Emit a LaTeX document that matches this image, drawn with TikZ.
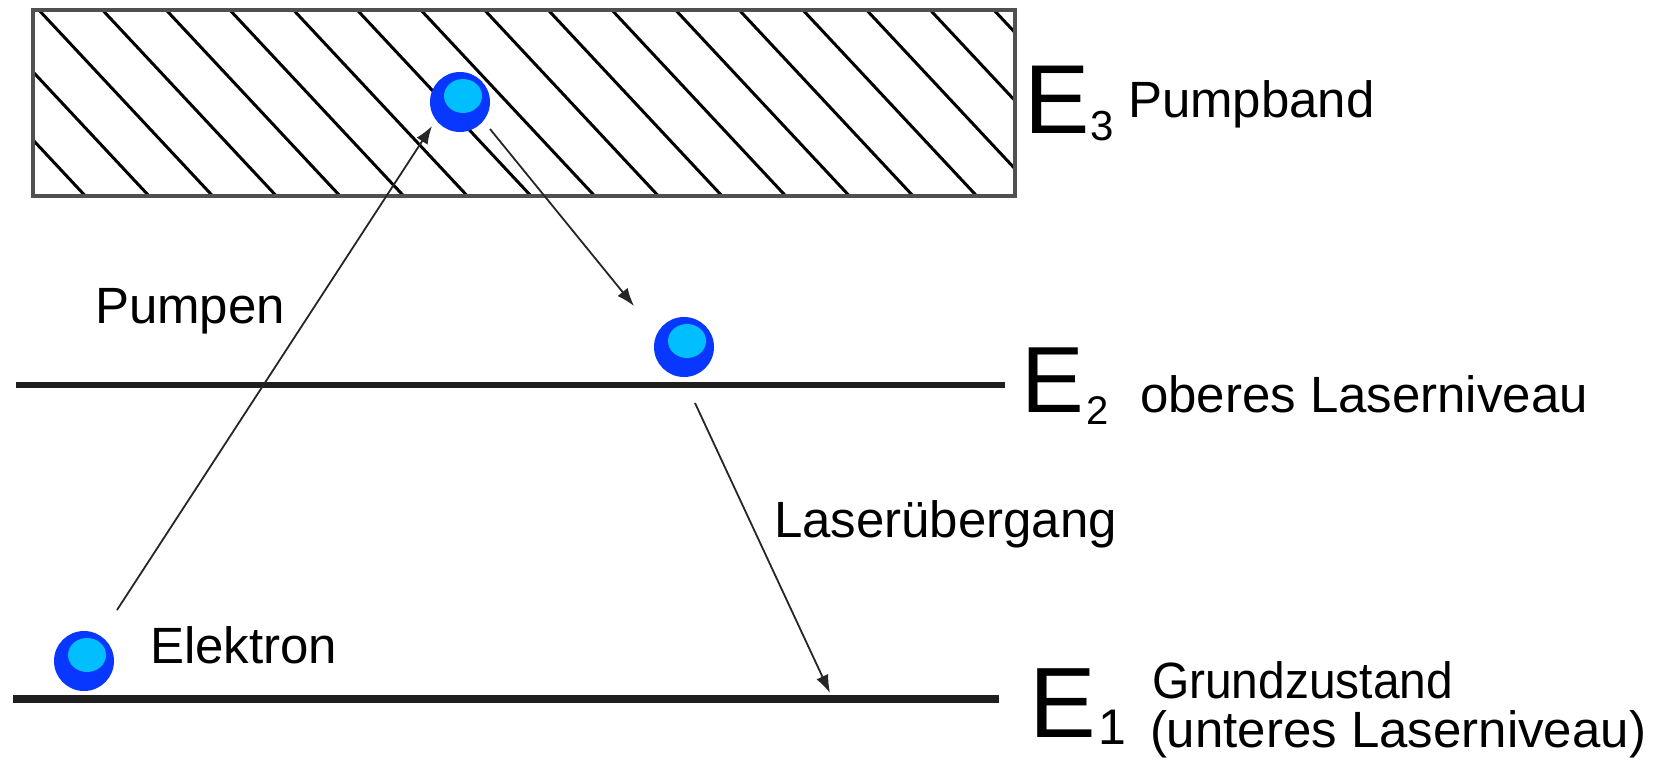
\documentclass[tikz,border=0pt]{standalone}
\usepackage{fontspec}
\setmainfont{Liberation Sans}
\usetikzlibrary{arrows.meta}
\definecolor{ballblue}{RGB}{8,55,255}
\definecolor{ballcyan}{RGB}{0,190,255}
\definecolor{edgegray}{RGB}{80,80,80}
\begin{document}
\begin{tikzpicture}[x=1pt,y=-1pt,
  lbl/.style={anchor=base west, inner sep=0pt, outer sep=0pt, font=\fontsize{51}{60}\selectfont},
  bigE/.style={anchor=base west, inner sep=0pt, outer sep=0pt, font=\fontsize{98}{110}\selectfont},
  subidx/.style={anchor=base west, inner sep=0pt, outer sep=0pt, font=\fontsize{42}{50}\selectfont},
  band/.style={rectangle, draw=edgegray, line width=3.5pt, minimum width=982pt, minimum height=186pt, inner sep=0pt},
  hatch/.style={draw=black, line width=3pt},
  level/.style={draw=black!88, line width=6.5pt},
  ball/.style={circle, fill=ballblue, minimum size=60pt, inner sep=0pt,
    path picture={\fill[ballcyan] ([xshift=3pt,yshift=6pt]path picture bounding box.center) ellipse (19pt and 17pt);}},
  conn/.style={draw=black!85, line width=1.8pt, -{Latex[length=18pt,width=13pt]}}
]
\useasboundingbox (0,0) rectangle (1665,764);

% Pumpband (hatched)
\node[band] (band) at (524,103) {};
\begin{scope}
  \clip (band.south west) rectangle (band.north east);
  \foreach \k in {-2,...,15} {
    \draw[hatch] ({37+63.67*\k},8) -- ++(200,214);
  }
\end{scope}
\node[band] at (band.center) {};

% energy levels
\coordinate (e2l) at (16,385);
\coordinate (e2r) at (1005,385);
\coordinate (e1l) at (13,699);
\coordinate (e1r) at (999,699);
\draw[level] (e2l) -- (e2r);
\draw[level, line width=8.5pt] (e1l) -- (e1r);

% electrons
\node[ball] (b3) at (460,102) {};
\node[ball] (b2) at (684,347) {};
\node[ball] (b1) at (84,661) {};

% transitions
\coordinate (pumpS) at (117,610);
\coordinate (pumpE) at (432,126);
\coordinate (relS) at (490,129);
\coordinate (relE) at (634,306);
\coordinate (lasS) at (695,403);
\coordinate (lasE) at (830,693);
\draw[conn] (pumpS) -- (pumpE);
\draw[conn] (relS) -- (relE);
\draw[conn] (lasS) -- (lasE);

% labels
\node[lbl] (tpump) at (95,323) {Pumpen};
\node[lbl] (telek) at (150,663) {Elektron};
\node[lbl] (tlas) at (774,537) {Laserübergang};

\node[bigE] (E3) at (1024,133) {E};
\node[subidx] (E3i) at (1090,140) {3};
\node[lbl] (tband) at (1128,117) {Pumpband};

\node[bigE, font=\fontsize{94}{110}\selectfont] (E2) at (1021,412) {E};
\node[subidx, font=\fontsize{40}{50}\selectfont] (E2i) at (1086,424) {2};
\node[lbl] (tupper) at (1140,412) {oberes Laserniveau};

\node[bigE, font=\fontsize{100}{110}\selectfont] (E1) at (1029,737) {E};
\node[subidx, font=\fontsize{50}{60}\selectfont] (E1i) at (1098,744) {1};
\node[lbl, xscale=0.94] (tground) at (1152,698) {Grundzustand};
\node[lbl] (tlower) at (1150,747) {(unteres Laserniveau)};
\end{tikzpicture}
\end{document}
